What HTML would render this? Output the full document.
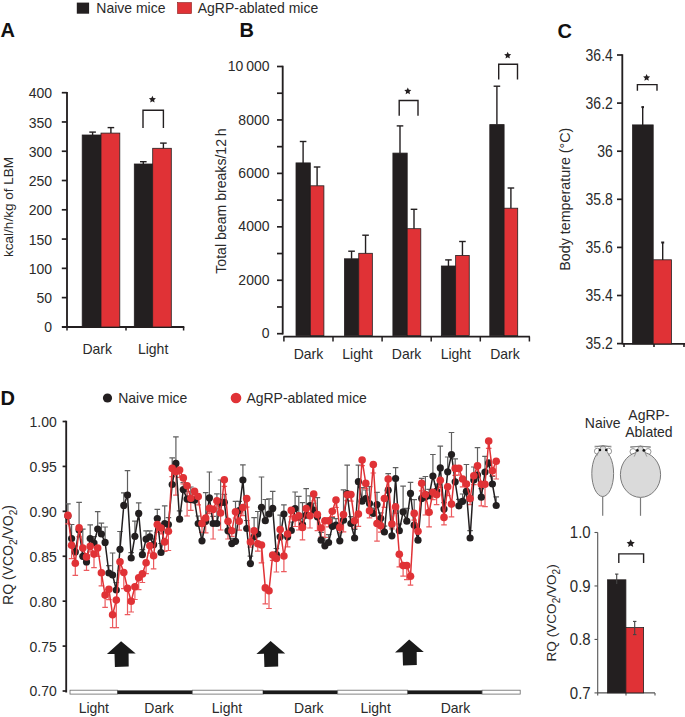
<!DOCTYPE html>
<html><head><meta charset="utf-8"><style>
html,body{margin:0;padding:0;background:#fff;}
svg{display:block;}
text{font-family:"Liberation Sans",sans-serif;}
</style></head><body>
<svg width="685" height="717" viewBox="0 0 685 717">
<rect width="685" height="717" fill="#fff"/>
<rect x="76.80" y="2.60" width="12.30" height="11.10" fill="#231f20"/>
<text transform="translate(96.3,12.9) scale(1,1.07)" font-size="14" text-anchor="start" font-weight="normal" fill="#2a2a2a" >Naive mice</text>
<rect x="177.50" y="2.60" width="14.00" height="11.00" fill="#e03236" stroke="#8a1a1a" stroke-width="0.6"/>
<text transform="translate(197.7,12.9) scale(1,1.07)" font-size="14" text-anchor="start" font-weight="normal" fill="#2a2a2a" >AgRP-ablated mice</text>
<text transform="translate(0.5,37.2) scale(1,1.05)" font-size="20" text-anchor="start" font-weight="bold" fill="#111" >A</text>
<text transform="translate(239.5,37.4) scale(1,1.0)" font-size="20" text-anchor="start" font-weight="bold" fill="#111" >B</text>
<text transform="translate(557.5,37.6) scale(1,1.0)" font-size="20" text-anchor="start" font-weight="bold" fill="#111" >C</text>
<text transform="translate(0.5,404.9) scale(1,1.0)" font-size="20" text-anchor="start" font-weight="bold" fill="#111" >D</text>
<line x1="67.00" y1="92.00" x2="67.00" y2="327.60" stroke="#231f20" stroke-width="1.85" />
<line x1="61.80" y1="326.90" x2="67.00" y2="326.90" stroke="#231f20" stroke-width="1.7" />
<text transform="translate(52.0,332.4) scale(1,1.07)" font-size="14" text-anchor="end" font-weight="normal" fill="#2a2a2a" >0</text>
<line x1="61.80" y1="297.62" x2="67.00" y2="297.62" stroke="#231f20" stroke-width="1.7" />
<text transform="translate(52.0,303.1) scale(1,1.07)" font-size="14" text-anchor="end" font-weight="normal" fill="#2a2a2a" >50</text>
<line x1="61.80" y1="268.35" x2="67.00" y2="268.35" stroke="#231f20" stroke-width="1.7" />
<text transform="translate(52.0,273.8) scale(1,1.07)" font-size="14" text-anchor="end" font-weight="normal" fill="#2a2a2a" >100</text>
<line x1="61.80" y1="239.07" x2="67.00" y2="239.07" stroke="#231f20" stroke-width="1.7" />
<text transform="translate(52.0,244.6) scale(1,1.07)" font-size="14" text-anchor="end" font-weight="normal" fill="#2a2a2a" >150</text>
<line x1="61.80" y1="209.80" x2="67.00" y2="209.80" stroke="#231f20" stroke-width="1.7" />
<text transform="translate(52.0,215.3) scale(1,1.07)" font-size="14" text-anchor="end" font-weight="normal" fill="#2a2a2a" >200</text>
<line x1="61.80" y1="180.52" x2="67.00" y2="180.52" stroke="#231f20" stroke-width="1.7" />
<text transform="translate(52.0,186.0) scale(1,1.07)" font-size="14" text-anchor="end" font-weight="normal" fill="#2a2a2a" >250</text>
<line x1="61.80" y1="151.25" x2="67.00" y2="151.25" stroke="#231f20" stroke-width="1.7" />
<text transform="translate(52.0,156.7) scale(1,1.07)" font-size="14" text-anchor="end" font-weight="normal" fill="#2a2a2a" >300</text>
<line x1="61.80" y1="121.97" x2="67.00" y2="121.97" stroke="#231f20" stroke-width="1.7" />
<text transform="translate(52.0,127.5) scale(1,1.07)" font-size="14" text-anchor="end" font-weight="normal" fill="#2a2a2a" >350</text>
<line x1="61.80" y1="92.70" x2="67.00" y2="92.70" stroke="#231f20" stroke-width="1.7" />
<text transform="translate(52.0,98.2) scale(1,1.07)" font-size="14" text-anchor="end" font-weight="normal" fill="#2a2a2a" >400</text>
<line x1="62.00" y1="327.00" x2="184.30" y2="327.00" stroke="#231f20" stroke-width="1.85" />
<line x1="67.00" y1="327.00" x2="67.00" y2="330.50" stroke="#231f20" stroke-width="1.5" />
<line x1="126.00" y1="327.00" x2="126.00" y2="330.50" stroke="#231f20" stroke-width="1.5" />
<line x1="183.60" y1="327.00" x2="183.60" y2="330.50" stroke="#231f20" stroke-width="1.5" />
<rect x="82.20" y="135.00" width="18.80" height="192.00" fill="#231f20" stroke="#231f20" stroke-width="0.8"/>
<rect x="101.00" y="133.10" width="18.80" height="193.90" fill="#e03236" stroke="#231f20" stroke-width="0.8"/>
<rect x="134.30" y="164.00" width="18.40" height="163.00" fill="#231f20" stroke="#231f20" stroke-width="0.8"/>
<rect x="152.70" y="148.30" width="18.60" height="178.70" fill="#e03236" stroke="#231f20" stroke-width="0.8"/>
<line x1="92.60" y1="135.00" x2="92.60" y2="132.10" stroke="#231f20" stroke-width="1.4" />
<line x1="89.30" y1="132.10" x2="95.90" y2="132.10" stroke="#231f20" stroke-width="1.4" />
<line x1="110.90" y1="133.10" x2="110.90" y2="127.60" stroke="#231f20" stroke-width="1.4" />
<line x1="107.60" y1="127.60" x2="114.20" y2="127.60" stroke="#231f20" stroke-width="1.4" />
<line x1="143.30" y1="164.00" x2="143.30" y2="161.70" stroke="#231f20" stroke-width="1.4" />
<line x1="140.00" y1="161.70" x2="146.60" y2="161.70" stroke="#231f20" stroke-width="1.4" />
<line x1="163.40" y1="148.30" x2="163.40" y2="143.10" stroke="#231f20" stroke-width="1.4" />
<line x1="160.10" y1="143.10" x2="166.70" y2="143.10" stroke="#231f20" stroke-width="1.4" />
<path d="M143.0,128.0 V110.3 H163.4 V128.0" fill="none" stroke="#231f20" stroke-width="1.4"/>
<path d="M152.40,95.70 L153.44,97.96 L155.92,98.26 L154.09,99.95 L154.57,102.39 L152.40,101.18 L150.23,102.39 L150.71,99.95 L148.88,98.26 L151.36,97.96Z" fill="#231f20"/>
<text transform="translate(97.2,354.0) scale(1,1.07)" font-size="14" text-anchor="middle" font-weight="normal" fill="#2a2a2a" >Dark</text>
<text transform="translate(153.1,354.0) scale(1,1.07)" font-size="14" text-anchor="middle" font-weight="normal" fill="#2a2a2a" >Light</text>
<text transform="translate(13.0,207.0) rotate(-90)" font-size="13.5" text-anchor="middle" fill="#2a2a2a">kcal/h/kg of LBM</text>
<line x1="282.70" y1="65.80" x2="282.70" y2="334.40" stroke="#231f20" stroke-width="1.85" />
<line x1="277.00" y1="333.70" x2="282.70" y2="333.70" stroke="#231f20" stroke-width="1.7" />
<text transform="translate(269.5,338.3) scale(1,1.1)" font-size="14" text-anchor="end" font-weight="normal" fill="#2a2a2a" >0</text>
<line x1="277.00" y1="306.98" x2="282.70" y2="306.98" stroke="#231f20" stroke-width="1.7" />
<line x1="277.00" y1="280.26" x2="282.70" y2="280.26" stroke="#231f20" stroke-width="1.7" />
<text transform="translate(269.5,284.9) scale(1,1.1)" font-size="14" text-anchor="end" font-weight="normal" fill="#2a2a2a" >2000</text>
<line x1="277.00" y1="253.54" x2="282.70" y2="253.54" stroke="#231f20" stroke-width="1.7" />
<line x1="277.00" y1="226.82" x2="282.70" y2="226.82" stroke="#231f20" stroke-width="1.7" />
<text transform="translate(269.5,231.4) scale(1,1.1)" font-size="14" text-anchor="end" font-weight="normal" fill="#2a2a2a" >4000</text>
<line x1="277.00" y1="200.10" x2="282.70" y2="200.10" stroke="#231f20" stroke-width="1.7" />
<line x1="277.00" y1="173.38" x2="282.70" y2="173.38" stroke="#231f20" stroke-width="1.7" />
<text transform="translate(269.5,178.0) scale(1,1.1)" font-size="14" text-anchor="end" font-weight="normal" fill="#2a2a2a" >6000</text>
<line x1="277.00" y1="146.66" x2="282.70" y2="146.66" stroke="#231f20" stroke-width="1.7" />
<line x1="277.00" y1="119.94" x2="282.70" y2="119.94" stroke="#231f20" stroke-width="1.7" />
<text transform="translate(269.5,124.5) scale(1,1.1)" font-size="14" text-anchor="end" font-weight="normal" fill="#2a2a2a" >8000</text>
<line x1="277.00" y1="93.22" x2="282.70" y2="93.22" stroke="#231f20" stroke-width="1.7" />
<line x1="277.00" y1="66.50" x2="282.70" y2="66.50" stroke="#231f20" stroke-width="1.7" />
<text transform="translate(269.5,71.1) scale(1,1.1)" font-size="14" text-anchor="end" font-weight="normal" fill="#2a2a2a" >10&#8201;000</text>
<line x1="283.40" y1="336.60" x2="529.90" y2="336.60" stroke="#231f20" stroke-width="1.85" />
<line x1="283.90" y1="336.60" x2="283.90" y2="341.50" stroke="#231f20" stroke-width="1.5" />
<line x1="333.00" y1="336.60" x2="333.00" y2="341.50" stroke="#231f20" stroke-width="1.5" />
<line x1="382.10" y1="336.60" x2="382.10" y2="341.50" stroke="#231f20" stroke-width="1.5" />
<line x1="431.20" y1="336.60" x2="431.20" y2="341.50" stroke="#231f20" stroke-width="1.5" />
<line x1="480.30" y1="336.60" x2="480.30" y2="341.50" stroke="#231f20" stroke-width="1.5" />
<line x1="529.40" y1="336.60" x2="529.40" y2="341.50" stroke="#231f20" stroke-width="1.5" />
<rect x="296.00" y="162.90" width="14.30" height="172.70" fill="#231f20" stroke="#231f20" stroke-width="0.8"/>
<rect x="310.30" y="185.80" width="13.60" height="149.80" fill="#e03236" stroke="#231f20" stroke-width="0.8"/>
<line x1="303.10" y1="162.90" x2="303.10" y2="141.50" stroke="#231f20" stroke-width="1.4" />
<line x1="299.80" y1="141.50" x2="306.40" y2="141.50" stroke="#231f20" stroke-width="1.4" />
<line x1="317.10" y1="185.80" x2="317.10" y2="167.00" stroke="#231f20" stroke-width="1.4" />
<line x1="313.80" y1="167.00" x2="320.40" y2="167.00" stroke="#231f20" stroke-width="1.4" />
<text transform="translate(308.4,359.2) scale(1,1.07)" font-size="14" text-anchor="middle" font-weight="normal" fill="#2a2a2a" >Dark</text>
<rect x="344.45" y="258.80" width="14.30" height="76.80" fill="#231f20" stroke="#231f20" stroke-width="0.8"/>
<rect x="358.75" y="253.30" width="13.60" height="82.30" fill="#e03236" stroke="#231f20" stroke-width="0.8"/>
<line x1="351.55" y1="258.80" x2="351.55" y2="251.20" stroke="#231f20" stroke-width="1.4" />
<line x1="348.25" y1="251.20" x2="354.85" y2="251.20" stroke="#231f20" stroke-width="1.4" />
<line x1="365.55" y1="253.30" x2="365.55" y2="235.20" stroke="#231f20" stroke-width="1.4" />
<line x1="362.25" y1="235.20" x2="368.85" y2="235.20" stroke="#231f20" stroke-width="1.4" />
<text transform="translate(357.5,359.2) scale(1,1.07)" font-size="14" text-anchor="middle" font-weight="normal" fill="#2a2a2a" >Light</text>
<rect x="392.90" y="153.10" width="14.30" height="182.50" fill="#231f20" stroke="#231f20" stroke-width="0.8"/>
<rect x="407.20" y="228.70" width="13.60" height="106.90" fill="#e03236" stroke="#231f20" stroke-width="0.8"/>
<line x1="400.00" y1="153.10" x2="400.00" y2="125.90" stroke="#231f20" stroke-width="1.4" />
<line x1="396.70" y1="125.90" x2="403.30" y2="125.90" stroke="#231f20" stroke-width="1.4" />
<line x1="414.00" y1="228.70" x2="414.00" y2="209.30" stroke="#231f20" stroke-width="1.4" />
<line x1="410.70" y1="209.30" x2="417.30" y2="209.30" stroke="#231f20" stroke-width="1.4" />
<text transform="translate(406.6,359.2) scale(1,1.07)" font-size="14" text-anchor="middle" font-weight="normal" fill="#2a2a2a" >Dark</text>
<rect x="441.35" y="266.00" width="14.30" height="69.60" fill="#231f20" stroke="#231f20" stroke-width="0.8"/>
<rect x="455.65" y="255.40" width="13.60" height="80.20" fill="#e03236" stroke="#231f20" stroke-width="0.8"/>
<line x1="448.45" y1="266.00" x2="448.45" y2="259.90" stroke="#231f20" stroke-width="1.4" />
<line x1="445.15" y1="259.90" x2="451.75" y2="259.90" stroke="#231f20" stroke-width="1.4" />
<line x1="462.45" y1="255.40" x2="462.45" y2="241.50" stroke="#231f20" stroke-width="1.4" />
<line x1="459.15" y1="241.50" x2="465.75" y2="241.50" stroke="#231f20" stroke-width="1.4" />
<text transform="translate(455.8,359.2) scale(1,1.07)" font-size="14" text-anchor="middle" font-weight="normal" fill="#2a2a2a" >Light</text>
<rect x="489.80" y="124.60" width="14.30" height="211.00" fill="#231f20" stroke="#231f20" stroke-width="0.8"/>
<rect x="504.10" y="208.20" width="13.60" height="127.40" fill="#e03236" stroke="#231f20" stroke-width="0.8"/>
<line x1="496.90" y1="124.60" x2="496.90" y2="86.20" stroke="#231f20" stroke-width="1.4" />
<line x1="493.60" y1="86.20" x2="500.20" y2="86.20" stroke="#231f20" stroke-width="1.4" />
<line x1="510.90" y1="208.20" x2="510.90" y2="188.00" stroke="#231f20" stroke-width="1.4" />
<line x1="507.60" y1="188.00" x2="514.20" y2="188.00" stroke="#231f20" stroke-width="1.4" />
<text transform="translate(504.9,359.2) scale(1,1.07)" font-size="14" text-anchor="middle" font-weight="normal" fill="#2a2a2a" >Dark</text>
<path d="M399.2,115.8 V100.5 H418.0 V115.8" fill="none" stroke="#231f20" stroke-width="1.4"/>
<path d="M407.80,87.50 L408.84,89.76 L411.32,90.06 L409.49,91.75 L409.97,94.19 L407.80,92.98 L405.63,94.19 L406.11,91.75 L404.28,90.06 L406.76,89.76Z" fill="#231f20"/>
<path d="M498.7,79.6 V64.3 H517.5 V79.6" fill="none" stroke="#231f20" stroke-width="1.4"/>
<path d="M507.70,51.70 L508.74,53.96 L511.22,54.26 L509.39,55.95 L509.87,58.39 L507.70,57.18 L505.53,58.39 L506.01,55.95 L504.18,54.26 L506.66,53.96Z" fill="#231f20"/>
<text transform="translate(226.0,201.0) rotate(-90)" font-size="14.1" text-anchor="middle" fill="#2a2a2a">Total beam breaks/12&#8201;h</text>
<line x1="622.30" y1="54.30" x2="622.30" y2="344.30" stroke="#231f20" stroke-width="1.85" />
<line x1="617.00" y1="55.00" x2="622.30" y2="55.00" stroke="#231f20" stroke-width="1.7" />
<text transform="translate(612.8,60.8) scale(1,1.12)" font-size="14" text-anchor="end" font-weight="normal" fill="#2a2a2a" >36.4</text>
<line x1="617.00" y1="103.10" x2="622.30" y2="103.10" stroke="#231f20" stroke-width="1.7" />
<text transform="translate(612.8,108.9) scale(1,1.12)" font-size="14" text-anchor="end" font-weight="normal" fill="#2a2a2a" >36.2</text>
<line x1="617.00" y1="151.20" x2="622.30" y2="151.20" stroke="#231f20" stroke-width="1.7" />
<text transform="translate(612.8,157.0) scale(1,1.12)" font-size="14" text-anchor="end" font-weight="normal" fill="#2a2a2a" >36</text>
<line x1="617.00" y1="199.30" x2="622.30" y2="199.30" stroke="#231f20" stroke-width="1.7" />
<text transform="translate(612.8,205.1) scale(1,1.12)" font-size="14" text-anchor="end" font-weight="normal" fill="#2a2a2a" >35.8</text>
<line x1="617.00" y1="247.40" x2="622.30" y2="247.40" stroke="#231f20" stroke-width="1.7" />
<text transform="translate(612.8,253.2) scale(1,1.12)" font-size="14" text-anchor="end" font-weight="normal" fill="#2a2a2a" >35.6</text>
<line x1="617.00" y1="295.50" x2="622.30" y2="295.50" stroke="#231f20" stroke-width="1.7" />
<text transform="translate(612.8,301.3) scale(1,1.12)" font-size="14" text-anchor="end" font-weight="normal" fill="#2a2a2a" >35.4</text>
<line x1="617.00" y1="343.60" x2="622.30" y2="343.60" stroke="#231f20" stroke-width="1.7" />
<text transform="translate(612.8,349.4) scale(1,1.12)" font-size="14" text-anchor="end" font-weight="normal" fill="#2a2a2a" >35.2</text>
<line x1="622.30" y1="343.90" x2="685.00" y2="343.90" stroke="#231f20" stroke-width="1.85" />
<line x1="624.00" y1="343.90" x2="624.00" y2="347.00" stroke="#231f20" stroke-width="1.6" />
<line x1="654.00" y1="343.90" x2="654.00" y2="347.00" stroke="#231f20" stroke-width="1.6" />
<line x1="684.00" y1="343.90" x2="684.00" y2="347.00" stroke="#231f20" stroke-width="1.6" />
<rect x="632.60" y="124.90" width="20.60" height="219.00" fill="#231f20" stroke="#231f20" stroke-width="0.8"/>
<rect x="653.20" y="259.80" width="18.20" height="84.10" fill="#e03236" stroke="#231f20" stroke-width="0.8"/>
<line x1="642.70" y1="124.90" x2="642.70" y2="107.10" stroke="#231f20" stroke-width="1.4" />
<line x1="641.40" y1="107.10" x2="644.00" y2="107.10" stroke="#231f20" stroke-width="2" />
<line x1="662.70" y1="260.00" x2="662.70" y2="242.50" stroke="#231f20" stroke-width="1.4" />
<line x1="661.20" y1="242.50" x2="664.20" y2="242.50" stroke="#231f20" stroke-width="2" />
<path d="M637.4,90.7 V84.6 H657.0 V90.7" fill="none" stroke="#231f20" stroke-width="1.4"/>
<path d="M646.60,74.00 L647.64,76.26 L650.12,76.56 L648.29,78.25 L648.77,80.69 L646.60,79.48 L644.43,80.69 L644.91,78.25 L643.08,76.56 L645.56,76.26Z" fill="#231f20"/>
<text transform="translate(569.5,199.2) rotate(-90)" font-size="14.3" text-anchor="middle" fill="#2a2a2a">Body temperature (°C)</text>
<circle cx="107.5" cy="398" r="4.6" fill="#231f20"/>
<text transform="translate(118.2,403.2) scale(1,1.07)" font-size="14" text-anchor="start" font-weight="normal" fill="#2a2a2a" >Naive mice</text>
<circle cx="236" cy="398" r="5.3" fill="#e03236"/>
<text transform="translate(246.4,403.2) scale(1,1.07)" font-size="14" text-anchor="start" font-weight="normal" fill="#2a2a2a" >AgRP-ablated mice</text>
<line x1="66.20" y1="420.80" x2="66.20" y2="692.50" stroke="#231f20" stroke-width="1.85" />
<line x1="62.60" y1="421.50" x2="66.20" y2="421.50" stroke="#231f20" stroke-width="1.7" />
<text transform="translate(56.7,426.9) scale(1,1.07)" font-size="14" text-anchor="end" font-weight="normal" fill="#2a2a2a" >1.00</text>
<line x1="62.60" y1="466.42" x2="66.20" y2="466.42" stroke="#231f20" stroke-width="1.7" />
<text transform="translate(56.7,471.8) scale(1,1.07)" font-size="14" text-anchor="end" font-weight="normal" fill="#2a2a2a" >0.95</text>
<line x1="62.60" y1="511.34" x2="66.20" y2="511.34" stroke="#231f20" stroke-width="1.7" />
<text transform="translate(56.7,516.7) scale(1,1.07)" font-size="14" text-anchor="end" font-weight="normal" fill="#2a2a2a" >0.90</text>
<line x1="62.60" y1="556.26" x2="66.20" y2="556.26" stroke="#231f20" stroke-width="1.7" />
<text transform="translate(56.7,561.7) scale(1,1.07)" font-size="14" text-anchor="end" font-weight="normal" fill="#2a2a2a" >0.85</text>
<line x1="62.60" y1="601.18" x2="66.20" y2="601.18" stroke="#231f20" stroke-width="1.7" />
<text transform="translate(56.7,606.6) scale(1,1.07)" font-size="14" text-anchor="end" font-weight="normal" fill="#2a2a2a" >0.80</text>
<line x1="62.60" y1="646.10" x2="66.20" y2="646.10" stroke="#231f20" stroke-width="1.7" />
<text transform="translate(56.7,651.5) scale(1,1.07)" font-size="14" text-anchor="end" font-weight="normal" fill="#2a2a2a" >0.75</text>
<line x1="62.60" y1="691.02" x2="66.20" y2="691.02" stroke="#231f20" stroke-width="1.7" />
<text transform="translate(56.7,696.4) scale(1,1.07)" font-size="14" text-anchor="end" font-weight="normal" fill="#2a2a2a" >0.70</text>
<text transform="translate(12.7,555) rotate(-90)" font-size="14" text-anchor="middle" fill="#2a2a2a">RQ (VCO<tspan font-size="10" dy="4">2</tspan><tspan dy="-4">/VO</tspan><tspan font-size="10" dy="4">2</tspan><tspan dy="-4">)</tspan></text>
<rect x="70.00" y="690.20" width="47.50" height="3.90" fill="#fff" stroke="#666" stroke-width="0.8"/>
<rect x="117.50" y="690.40" width="74.80" height="3.80" fill="#1a1a1a"/>
<rect x="192.30" y="690.20" width="70.70" height="3.90" fill="#fff" stroke="#666" stroke-width="0.8"/>
<rect x="263.00" y="690.40" width="74.70" height="3.80" fill="#1a1a1a"/>
<rect x="337.70" y="690.20" width="70.00" height="3.90" fill="#fff" stroke="#666" stroke-width="0.8"/>
<rect x="407.70" y="690.40" width="74.40" height="3.80" fill="#1a1a1a"/>
<rect x="482.10" y="690.20" width="38.10" height="3.90" fill="#fff" stroke="#666" stroke-width="0.8"/>
<text transform="translate(93.8,713.2) scale(1,1.07)" font-size="14" text-anchor="middle" font-weight="normal" fill="#2a2a2a" >Light</text>
<text transform="translate(159.1,713.2) scale(1,1.07)" font-size="14" text-anchor="middle" font-weight="normal" fill="#2a2a2a" >Dark</text>
<text transform="translate(227.0,713.2) scale(1,1.07)" font-size="14" text-anchor="middle" font-weight="normal" fill="#2a2a2a" >Light</text>
<text transform="translate(308.8,713.2) scale(1,1.07)" font-size="14" text-anchor="middle" font-weight="normal" fill="#2a2a2a" >Dark</text>
<text transform="translate(375.6,713.2) scale(1,1.07)" font-size="14" text-anchor="middle" font-weight="normal" fill="#2a2a2a" >Light</text>
<text transform="translate(455.5,713.2) scale(1,1.07)" font-size="14" text-anchor="middle" font-weight="normal" fill="#2a2a2a" >Dark</text>
<path d="M121.1,641.3 L135.7,653.6 L128.6,653.6 L128.7,666.6 L114.9,667.1 L114.5,653.9 L106.9,654.1 Z" fill="#1a1a1a"/>
<path d="M270.6,641.1 L285.2,653.4 L278.1,653.4 L278.2,666.4 L264.4,666.9 L264.0,653.7 L256.4,653.9 Z" fill="#1a1a1a"/>
<path d="M409.2,639.6 L423.8,651.9 L416.7,651.9 L416.8,664.9 L403.0,665.4 L402.6,652.2 L395.0,652.4 Z" fill="#1a1a1a"/>
<path d="M67.9,516.0V503.8M65.1,503.8H70.7" stroke="#5f5f5f" stroke-width="1.2" fill="none"/>
<path d="M71.6,538.5V524.5M68.8,524.5H74.4" stroke="#5f5f5f" stroke-width="1.2" fill="none"/>
<path d="M75.3,551.9V545.9M72.5,545.9H78.1" stroke="#5f5f5f" stroke-width="1.2" fill="none"/>
<path d="M79.1,530.0V502.4M76.3,502.4H81.9" stroke="#5f5f5f" stroke-width="1.2" fill="none"/>
<path d="M82.8,556.3V529.2M80.0,529.2H85.6" stroke="#5f5f5f" stroke-width="1.2" fill="none"/>
<path d="M86.5,561.9V554.7M83.7,554.7H89.3" stroke="#5f5f5f" stroke-width="1.2" fill="none"/>
<path d="M90.2,538.5V524.8M87.4,524.8H93.0" stroke="#5f5f5f" stroke-width="1.2" fill="none"/>
<path d="M94.0,543.0V536.5M91.2,536.5H96.8" stroke="#5f5f5f" stroke-width="1.2" fill="none"/>
<path d="M97.7,529.0V511.6M94.9,511.6H100.5" stroke="#5f5f5f" stroke-width="1.2" fill="none"/>
<path d="M101.4,534.0V523.1M98.6,523.1H104.2" stroke="#5f5f5f" stroke-width="1.2" fill="none"/>
<path d="M105.1,542.4V527.0M102.3,527.0H107.9" stroke="#5f5f5f" stroke-width="1.2" fill="none"/>
<path d="M108.9,573.0V565.6M106.1,565.6H111.7" stroke="#5f5f5f" stroke-width="1.2" fill="none"/>
<path d="M112.6,575.0V553.0M109.8,553.0H115.4" stroke="#5f5f5f" stroke-width="1.2" fill="none"/>
<path d="M116.3,590.0V582.5M113.5,582.5H119.1" stroke="#5f5f5f" stroke-width="1.2" fill="none"/>
<path d="M120.0,549.3V531.5M117.2,531.5H122.8" stroke="#5f5f5f" stroke-width="1.2" fill="none"/>
<path d="M123.8,505.4V492.9M121.0,492.9H126.6" stroke="#5f5f5f" stroke-width="1.2" fill="none"/>
<path d="M127.5,495.0V470.6M124.7,470.6H130.3" stroke="#5f5f5f" stroke-width="1.2" fill="none"/>
<path d="M131.2,558.0V552.7M128.4,552.7H134.0" stroke="#5f5f5f" stroke-width="1.2" fill="none"/>
<path d="M134.9,536.3V521.2M132.1,521.2H137.7" stroke="#5f5f5f" stroke-width="1.2" fill="none"/>
<path d="M138.7,513.4V502.8M135.9,502.8H141.5" stroke="#5f5f5f" stroke-width="1.2" fill="none"/>
<path d="M142.4,554.7V549.6M139.6,549.6H145.2" stroke="#5f5f5f" stroke-width="1.2" fill="none"/>
<path d="M146.1,539.1V530.8M143.3,530.8H148.9" stroke="#5f5f5f" stroke-width="1.2" fill="none"/>
<path d="M149.8,536.9V530.9M147.0,530.9H152.6" stroke="#5f5f5f" stroke-width="1.2" fill="none"/>
<path d="M153.6,544.7V538.8M150.8,538.8H156.4" stroke="#5f5f5f" stroke-width="1.2" fill="none"/>
<path d="M157.3,518.5V509.3M154.5,509.3H160.1" stroke="#5f5f5f" stroke-width="1.2" fill="none"/>
<path d="M161.0,552.5V543.5M158.2,543.5H163.8" stroke="#5f5f5f" stroke-width="1.2" fill="none"/>
<path d="M164.7,523.5V505.9M161.9,505.9H167.5" stroke="#5f5f5f" stroke-width="1.2" fill="none"/>
<path d="M168.4,524.6V517.7M165.6,517.7H171.2" stroke="#5f5f5f" stroke-width="1.2" fill="none"/>
<path d="M172.2,484.5V457.9M169.4,457.9H175.0" stroke="#5f5f5f" stroke-width="1.2" fill="none"/>
<path d="M175.9,463.4V436.9M173.1,436.9H178.7" stroke="#5f5f5f" stroke-width="1.2" fill="none"/>
<path d="M179.6,519.2V510.9M176.8,510.9H182.4" stroke="#5f5f5f" stroke-width="1.2" fill="none"/>
<path d="M183.3,489.6V482.7M180.5,482.7H186.1" stroke="#5f5f5f" stroke-width="1.2" fill="none"/>
<path d="M187.1,499.1V491.5M184.3,491.5H189.9" stroke="#5f5f5f" stroke-width="1.2" fill="none"/>
<path d="M190.8,499.6V487.0M188.0,487.0H193.6" stroke="#5f5f5f" stroke-width="1.2" fill="none"/>
<path d="M194.5,500.2V494.6M191.7,494.6H197.3" stroke="#5f5f5f" stroke-width="1.2" fill="none"/>
<path d="M198.2,523.5V516.0M195.4,516.0H201.0" stroke="#5f5f5f" stroke-width="1.2" fill="none"/>
<path d="M202.0,540.8V532.3M199.2,532.3H204.8" stroke="#5f5f5f" stroke-width="1.2" fill="none"/>
<path d="M205.7,521.3V492.7M202.9,492.7H208.5" stroke="#5f5f5f" stroke-width="1.2" fill="none"/>
<path d="M209.4,497.9V472.0M206.6,472.0H212.2" stroke="#5f5f5f" stroke-width="1.2" fill="none"/>
<path d="M213.1,523.5V516.4M210.3,516.4H215.9" stroke="#5f5f5f" stroke-width="1.2" fill="none"/>
<path d="M216.9,523.5V493.9M214.1,493.9H219.7" stroke="#5f5f5f" stroke-width="1.2" fill="none"/>
<path d="M220.6,502.4V480.0M217.8,480.0H223.4" stroke="#5f5f5f" stroke-width="1.2" fill="none"/>
<path d="M224.3,502.3V494.3M221.5,494.3H227.1" stroke="#5f5f5f" stroke-width="1.2" fill="none"/>
<path d="M228.0,530.8V523.1M225.2,523.1H230.8" stroke="#5f5f5f" stroke-width="1.2" fill="none"/>
<path d="M231.8,543.6V538.3M229.0,538.3H234.6" stroke="#5f5f5f" stroke-width="1.2" fill="none"/>
<path d="M235.5,541.3V501.4M232.7,501.4H238.3" stroke="#5f5f5f" stroke-width="1.2" fill="none"/>
<path d="M239.2,510.6V501.4M236.4,501.4H242.0" stroke="#5f5f5f" stroke-width="1.2" fill="none"/>
<path d="M242.9,480.0V464.8M240.1,464.8H245.7" stroke="#5f5f5f" stroke-width="1.2" fill="none"/>
<path d="M246.7,528.5V520.5M243.9,520.5H249.5" stroke="#5f5f5f" stroke-width="1.2" fill="none"/>
<path d="M250.4,563.6V556.2M247.6,556.2H253.2" stroke="#5f5f5f" stroke-width="1.2" fill="none"/>
<path d="M254.1,536.8V517.7M251.3,517.7H256.9" stroke="#5f5f5f" stroke-width="1.2" fill="none"/>
<path d="M257.8,534.0V511.5M255.0,511.5H260.6" stroke="#5f5f5f" stroke-width="1.2" fill="none"/>
<path d="M261.5,507.3V477.0M258.7,477.0H264.3" stroke="#5f5f5f" stroke-width="1.2" fill="none"/>
<path d="M265.3,520.7V499.5M262.5,499.5H268.1" stroke="#5f5f5f" stroke-width="1.2" fill="none"/>
<path d="M269.0,514.0V498.9M266.2,498.9H271.8" stroke="#5f5f5f" stroke-width="1.2" fill="none"/>
<path d="M272.7,508.4V491.4M269.9,491.4H275.5" stroke="#5f5f5f" stroke-width="1.2" fill="none"/>
<path d="M276.4,554.7V548.5M273.6,548.5H279.2" stroke="#5f5f5f" stroke-width="1.2" fill="none"/>
<path d="M280.2,536.8V515.2M277.4,515.2H283.0" stroke="#5f5f5f" stroke-width="1.2" fill="none"/>
<path d="M283.9,514.0V504.8M281.1,504.8H286.7" stroke="#5f5f5f" stroke-width="1.2" fill="none"/>
<path d="M287.6,536.8V531.7M284.8,531.7H290.4" stroke="#5f5f5f" stroke-width="1.2" fill="none"/>
<path d="M291.3,530.5V522.0M288.5,522.0H294.1" stroke="#5f5f5f" stroke-width="1.2" fill="none"/>
<path d="M295.1,508.5V492.0M292.3,492.0H297.9" stroke="#5f5f5f" stroke-width="1.2" fill="none"/>
<path d="M298.8,516.8V496.4M296.0,496.4H301.6" stroke="#5f5f5f" stroke-width="1.2" fill="none"/>
<path d="M302.5,524.6V502.7M299.7,502.7H305.3" stroke="#5f5f5f" stroke-width="1.2" fill="none"/>
<path d="M306.2,515.1V488.6M303.4,488.6H309.0" stroke="#5f5f5f" stroke-width="1.2" fill="none"/>
<path d="M310.0,505.7V495.8M307.2,495.8H312.8" stroke="#5f5f5f" stroke-width="1.2" fill="none"/>
<path d="M313.7,510.1V503.2M310.9,503.2H316.5" stroke="#5f5f5f" stroke-width="1.2" fill="none"/>
<path d="M317.4,516.8V497.7M314.6,497.7H320.2" stroke="#5f5f5f" stroke-width="1.2" fill="none"/>
<path d="M321.1,540.2V532.3M318.3,532.3H323.9" stroke="#5f5f5f" stroke-width="1.2" fill="none"/>
<path d="M324.9,545.8V537.3M322.1,537.3H327.7" stroke="#5f5f5f" stroke-width="1.2" fill="none"/>
<path d="M328.6,542.5V534.6M325.8,534.6H331.4" stroke="#5f5f5f" stroke-width="1.2" fill="none"/>
<path d="M332.3,526.3V517.6M329.5,517.6H335.1" stroke="#5f5f5f" stroke-width="1.2" fill="none"/>
<path d="M336.0,525.2V518.6M333.2,518.6H338.8" stroke="#5f5f5f" stroke-width="1.2" fill="none"/>
<path d="M339.8,540.8V532.6M337.0,532.6H342.6" stroke="#5f5f5f" stroke-width="1.2" fill="none"/>
<path d="M343.5,520.2V489.9M340.7,489.9H346.3" stroke="#5f5f5f" stroke-width="1.2" fill="none"/>
<path d="M347.2,493.5V465.1M344.4,465.1H350.0" stroke="#5f5f5f" stroke-width="1.2" fill="none"/>
<path d="M350.9,523.5V516.7M348.1,516.7H353.7" stroke="#5f5f5f" stroke-width="1.2" fill="none"/>
<path d="M354.6,538.0V529.3M351.8,529.3H357.4" stroke="#5f5f5f" stroke-width="1.2" fill="none"/>
<path d="M358.4,481.7V465.1M355.6,465.1H361.2" stroke="#5f5f5f" stroke-width="1.2" fill="none"/>
<path d="M362.1,501.2V487.7M359.3,487.7H364.9" stroke="#5f5f5f" stroke-width="1.2" fill="none"/>
<path d="M365.8,498.5V490.0M363.0,490.0H368.6" stroke="#5f5f5f" stroke-width="1.2" fill="none"/>
<path d="M369.5,503.5V486.7M366.7,486.7H372.3" stroke="#5f5f5f" stroke-width="1.2" fill="none"/>
<path d="M373.3,513.5V508.1M370.5,508.1H376.1" stroke="#5f5f5f" stroke-width="1.2" fill="none"/>
<path d="M377.0,504.6V492.4M374.2,492.4H379.8" stroke="#5f5f5f" stroke-width="1.2" fill="none"/>
<path d="M380.7,518.3V512.8M377.9,512.8H383.5" stroke="#5f5f5f" stroke-width="1.2" fill="none"/>
<path d="M384.4,532.0V526.1M381.6,526.1H387.2" stroke="#5f5f5f" stroke-width="1.2" fill="none"/>
<path d="M388.2,490.3V473.6M385.4,473.6H391.0" stroke="#5f5f5f" stroke-width="1.2" fill="none"/>
<path d="M391.9,535.8V526.9M389.1,526.9H394.7" stroke="#5f5f5f" stroke-width="1.2" fill="none"/>
<path d="M395.6,478.5V467.7M392.8,467.7H398.4" stroke="#5f5f5f" stroke-width="1.2" fill="none"/>
<path d="M399.3,530.7V524.0M396.5,524.0H402.1" stroke="#5f5f5f" stroke-width="1.2" fill="none"/>
<path d="M403.1,511.8V486.2M400.3,486.2H405.9" stroke="#5f5f5f" stroke-width="1.2" fill="none"/>
<path d="M406.8,521.2V508.4M404.0,508.4H409.6" stroke="#5f5f5f" stroke-width="1.2" fill="none"/>
<path d="M410.5,493.4V482.4M407.7,482.4H413.3" stroke="#5f5f5f" stroke-width="1.2" fill="none"/>
<path d="M414.2,525.2V499.7M411.4,499.7H417.0" stroke="#5f5f5f" stroke-width="1.2" fill="none"/>
<path d="M418.0,540.2V532.7M415.2,532.7H420.8" stroke="#5f5f5f" stroke-width="1.2" fill="none"/>
<path d="M421.7,498.4V478.3M418.9,478.3H424.5" stroke="#5f5f5f" stroke-width="1.2" fill="none"/>
<path d="M425.4,497.0V476.5M422.6,476.5H428.2" stroke="#5f5f5f" stroke-width="1.2" fill="none"/>
<path d="M429.1,495.6V489.4M426.3,489.4H431.9" stroke="#5f5f5f" stroke-width="1.2" fill="none"/>
<path d="M432.9,476.0V454.5M430.1,454.5H435.7" stroke="#5f5f5f" stroke-width="1.2" fill="none"/>
<path d="M436.6,491.1V484.1M433.8,484.1H439.4" stroke="#5f5f5f" stroke-width="1.2" fill="none"/>
<path d="M440.3,467.9V446.1M437.5,446.1H443.1" stroke="#5f5f5f" stroke-width="1.2" fill="none"/>
<path d="M444.0,509.1V502.6M441.2,502.6H446.8" stroke="#5f5f5f" stroke-width="1.2" fill="none"/>
<path d="M447.7,471.8V457.0M444.9,457.0H450.5" stroke="#5f5f5f" stroke-width="1.2" fill="none"/>
<path d="M451.5,454.5V432.5M448.7,432.5H454.3" stroke="#5f5f5f" stroke-width="1.2" fill="none"/>
<path d="M455.2,481.8V458.9M452.4,458.9H458.0" stroke="#5f5f5f" stroke-width="1.2" fill="none"/>
<path d="M458.9,505.8V499.4M456.1,499.4H461.7" stroke="#5f5f5f" stroke-width="1.2" fill="none"/>
<path d="M462.6,501.3V494.0M459.8,494.0H465.4" stroke="#5f5f5f" stroke-width="1.2" fill="none"/>
<path d="M466.4,491.3V464.5M463.6,464.5H469.2" stroke="#5f5f5f" stroke-width="1.2" fill="none"/>
<path d="M470.1,538.0V530.7M467.3,530.7H472.9" stroke="#5f5f5f" stroke-width="1.2" fill="none"/>
<path d="M473.8,480.0V467.0M471.0,467.0H476.6" stroke="#5f5f5f" stroke-width="1.2" fill="none"/>
<path d="M477.5,475.0V447.6M474.7,447.6H480.3" stroke="#5f5f5f" stroke-width="1.2" fill="none"/>
<path d="M481.3,497.2V488.6M478.5,488.6H484.1" stroke="#5f5f5f" stroke-width="1.2" fill="none"/>
<path d="M485.0,472.0V456.4M482.2,456.4H487.8" stroke="#5f5f5f" stroke-width="1.2" fill="none"/>
<path d="M488.7,463.1V460.0M485.9,460.0H491.5" stroke="#5f5f5f" stroke-width="1.2" fill="none"/>
<path d="M492.4,484.0V476.3M489.6,476.3H495.2" stroke="#5f5f5f" stroke-width="1.2" fill="none"/>
<path d="M496.2,505.5V496.8M493.4,496.8H499.0" stroke="#5f5f5f" stroke-width="1.2" fill="none"/>
<path d="M67.9,515.4V523.8M65.1,523.8H70.7" stroke="#ec5a5e" stroke-width="1.2" fill="none"/>
<path d="M71.6,545.2V558.6M68.8,558.6H74.4" stroke="#ec5a5e" stroke-width="1.2" fill="none"/>
<path d="M75.3,563.2V575.3M72.5,575.3H78.1" stroke="#ec5a5e" stroke-width="1.2" fill="none"/>
<path d="M79.1,527.9V536.9M76.3,536.9H81.9" stroke="#ec5a5e" stroke-width="1.2" fill="none"/>
<path d="M82.8,548.0V555.7M80.0,555.7H85.6" stroke="#ec5a5e" stroke-width="1.2" fill="none"/>
<path d="M86.5,556.9V570.4M83.7,570.4H89.3" stroke="#ec5a5e" stroke-width="1.2" fill="none"/>
<path d="M90.2,546.3V552.0M87.4,552.0H93.0" stroke="#ec5a5e" stroke-width="1.2" fill="none"/>
<path d="M94.0,554.1V567.7M91.2,567.7H96.8" stroke="#ec5a5e" stroke-width="1.2" fill="none"/>
<path d="M97.7,548.0V556.4M94.9,556.4H100.5" stroke="#ec5a5e" stroke-width="1.2" fill="none"/>
<path d="M101.4,572.8V585.8M98.6,585.8H104.2" stroke="#ec5a5e" stroke-width="1.2" fill="none"/>
<path d="M105.1,595.1V607.4M102.3,607.4H107.9" stroke="#ec5a5e" stroke-width="1.2" fill="none"/>
<path d="M108.9,589.2V599.7M106.1,599.7H111.7" stroke="#ec5a5e" stroke-width="1.2" fill="none"/>
<path d="M112.6,614.8V627.6M109.8,627.6H115.4" stroke="#ec5a5e" stroke-width="1.2" fill="none"/>
<path d="M116.3,600.1V627.6M113.5,627.6H119.1" stroke="#ec5a5e" stroke-width="1.2" fill="none"/>
<path d="M120.0,561.7V570.6M117.2,570.6H122.8" stroke="#ec5a5e" stroke-width="1.2" fill="none"/>
<path d="M123.8,572.5V588.6M121.0,588.6H126.6" stroke="#ec5a5e" stroke-width="1.2" fill="none"/>
<path d="M127.5,588.4V614.6M124.7,614.6H130.3" stroke="#ec5a5e" stroke-width="1.2" fill="none"/>
<path d="M131.2,601.2V612.0M128.4,612.0H134.0" stroke="#ec5a5e" stroke-width="1.2" fill="none"/>
<path d="M134.9,586.8V599.5M132.1,599.5H137.7" stroke="#ec5a5e" stroke-width="1.2" fill="none"/>
<path d="M138.7,577.8V589.7M135.9,589.7H141.5" stroke="#ec5a5e" stroke-width="1.2" fill="none"/>
<path d="M142.4,573.9V582.5M139.6,582.5H145.2" stroke="#ec5a5e" stroke-width="1.2" fill="none"/>
<path d="M146.1,562.8V573.7M143.3,573.7H148.9" stroke="#ec5a5e" stroke-width="1.2" fill="none"/>
<path d="M149.8,545.8V553.1M147.0,553.1H152.6" stroke="#ec5a5e" stroke-width="1.2" fill="none"/>
<path d="M153.6,555.8V568.8M150.8,568.8H156.4" stroke="#ec5a5e" stroke-width="1.2" fill="none"/>
<path d="M157.3,524.6V532.5M154.5,532.5H160.1" stroke="#ec5a5e" stroke-width="1.2" fill="none"/>
<path d="M161.0,528.0V533.8M158.2,533.8H163.8" stroke="#ec5a5e" stroke-width="1.2" fill="none"/>
<path d="M164.7,541.9V551.4M161.9,551.4H167.5" stroke="#ec5a5e" stroke-width="1.2" fill="none"/>
<path d="M168.4,531.3V550.5M165.6,550.5H171.2" stroke="#ec5a5e" stroke-width="1.2" fill="none"/>
<path d="M172.2,468.4V476.7M169.4,476.7H175.0" stroke="#ec5a5e" stroke-width="1.2" fill="none"/>
<path d="M175.9,471.8V495.1M173.1,495.1H178.7" stroke="#ec5a5e" stroke-width="1.2" fill="none"/>
<path d="M179.6,470.1V477.4M176.8,477.4H182.4" stroke="#ec5a5e" stroke-width="1.2" fill="none"/>
<path d="M183.3,477.9V484.0M180.5,484.0H186.1" stroke="#ec5a5e" stroke-width="1.2" fill="none"/>
<path d="M187.1,485.7V516.0M184.3,516.0H189.9" stroke="#ec5a5e" stroke-width="1.2" fill="none"/>
<path d="M190.8,498.2V510.4M188.0,510.4H193.6" stroke="#ec5a5e" stroke-width="1.2" fill="none"/>
<path d="M194.5,491.3V496.6M191.7,496.6H197.3" stroke="#ec5a5e" stroke-width="1.2" fill="none"/>
<path d="M198.2,496.5V504.9M195.4,504.9H201.0" stroke="#ec5a5e" stroke-width="1.2" fill="none"/>
<path d="M202.0,523.5V532.5M199.2,532.5H204.8" stroke="#ec5a5e" stroke-width="1.2" fill="none"/>
<path d="M205.7,518.0V532.8M202.9,532.8H208.5" stroke="#ec5a5e" stroke-width="1.2" fill="none"/>
<path d="M209.4,508.3V513.7M206.6,513.7H212.2" stroke="#ec5a5e" stroke-width="1.2" fill="none"/>
<path d="M213.1,509.4V539.0M210.3,539.0H215.9" stroke="#ec5a5e" stroke-width="1.2" fill="none"/>
<path d="M216.9,500.7V508.9M214.1,508.9H219.7" stroke="#ec5a5e" stroke-width="1.2" fill="none"/>
<path d="M220.6,513.0V530.0M217.8,530.0H223.4" stroke="#ec5a5e" stroke-width="1.2" fill="none"/>
<path d="M224.3,479.8V486.4M221.5,486.4H227.1" stroke="#ec5a5e" stroke-width="1.2" fill="none"/>
<path d="M228.0,521.3V539.0M225.2,539.0H230.8" stroke="#ec5a5e" stroke-width="1.2" fill="none"/>
<path d="M231.8,530.8V536.4M229.0,536.4H234.6" stroke="#ec5a5e" stroke-width="1.2" fill="none"/>
<path d="M235.5,511.8V518.0M232.7,518.0H238.3" stroke="#ec5a5e" stroke-width="1.2" fill="none"/>
<path d="M239.2,521.3V530.1M236.4,530.1H242.0" stroke="#ec5a5e" stroke-width="1.2" fill="none"/>
<path d="M242.9,507.5V515.6M240.1,515.6H245.7" stroke="#ec5a5e" stroke-width="1.2" fill="none"/>
<path d="M246.7,498.6V507.1M243.9,507.1H249.5" stroke="#ec5a5e" stroke-width="1.2" fill="none"/>
<path d="M250.4,542.0V547.2M247.6,547.2H253.2" stroke="#ec5a5e" stroke-width="1.2" fill="none"/>
<path d="M254.1,530.7V538.2M251.3,538.2H256.9" stroke="#ec5a5e" stroke-width="1.2" fill="none"/>
<path d="M257.8,543.7V551.1M255.0,551.1H260.6" stroke="#ec5a5e" stroke-width="1.2" fill="none"/>
<path d="M261.5,545.0V562.8M258.7,562.8H264.3" stroke="#ec5a5e" stroke-width="1.2" fill="none"/>
<path d="M265.3,587.9V603.8M262.5,603.8H268.1" stroke="#ec5a5e" stroke-width="1.2" fill="none"/>
<path d="M269.0,590.7V608.5M266.2,608.5H271.8" stroke="#ec5a5e" stroke-width="1.2" fill="none"/>
<path d="M272.7,555.1V560.3M269.9,560.3H275.5" stroke="#ec5a5e" stroke-width="1.2" fill="none"/>
<path d="M276.4,558.5V572.0M273.6,572.0H279.2" stroke="#ec5a5e" stroke-width="1.2" fill="none"/>
<path d="M280.2,529.6V537.5M277.4,537.5H283.0" stroke="#ec5a5e" stroke-width="1.2" fill="none"/>
<path d="M283.9,556.0V571.7M281.1,571.7H286.7" stroke="#ec5a5e" stroke-width="1.2" fill="none"/>
<path d="M287.6,534.0V546.9M284.8,546.9H290.4" stroke="#ec5a5e" stroke-width="1.2" fill="none"/>
<path d="M291.3,510.4V516.7M288.5,516.7H294.1" stroke="#ec5a5e" stroke-width="1.2" fill="none"/>
<path d="M295.1,518.0V526.5M292.3,526.5H297.9" stroke="#ec5a5e" stroke-width="1.2" fill="none"/>
<path d="M298.8,515.7V530.0M296.0,530.0H301.6" stroke="#ec5a5e" stroke-width="1.2" fill="none"/>
<path d="M302.5,527.4V539.8M299.7,539.8H305.3" stroke="#ec5a5e" stroke-width="1.2" fill="none"/>
<path d="M306.2,508.5V517.4M303.4,517.4H309.0" stroke="#ec5a5e" stroke-width="1.2" fill="none"/>
<path d="M310.0,515.7V528.0M307.2,528.0H312.8" stroke="#ec5a5e" stroke-width="1.2" fill="none"/>
<path d="M313.7,494.0V501.0M310.9,501.0H316.5" stroke="#ec5a5e" stroke-width="1.2" fill="none"/>
<path d="M317.4,514.6V530.6M314.6,530.6H320.2" stroke="#ec5a5e" stroke-width="1.2" fill="none"/>
<path d="M321.1,528.0V537.0M318.3,537.0H323.9" stroke="#ec5a5e" stroke-width="1.2" fill="none"/>
<path d="M324.9,520.7V537.5M322.1,537.5H327.7" stroke="#ec5a5e" stroke-width="1.2" fill="none"/>
<path d="M328.6,520.7V526.9M325.8,526.9H331.4" stroke="#ec5a5e" stroke-width="1.2" fill="none"/>
<path d="M332.3,511.2V516.5M329.5,516.5H335.1" stroke="#ec5a5e" stroke-width="1.2" fill="none"/>
<path d="M336.0,500.1V507.5M333.2,507.5H338.8" stroke="#ec5a5e" stroke-width="1.2" fill="none"/>
<path d="M339.8,527.4V532.5M337.0,532.5H342.6" stroke="#ec5a5e" stroke-width="1.2" fill="none"/>
<path d="M343.5,514.6V531.9M340.7,531.9H346.3" stroke="#ec5a5e" stroke-width="1.2" fill="none"/>
<path d="M347.2,494.8V500.6M344.4,500.6H350.0" stroke="#ec5a5e" stroke-width="1.2" fill="none"/>
<path d="M350.9,494.6V501.2M348.1,501.2H353.7" stroke="#ec5a5e" stroke-width="1.2" fill="none"/>
<path d="M354.6,520.8V528.2M351.8,528.2H357.4" stroke="#ec5a5e" stroke-width="1.2" fill="none"/>
<path d="M358.4,514.1V526.3M355.6,526.3H361.2" stroke="#ec5a5e" stroke-width="1.2" fill="none"/>
<path d="M362.1,460.0V465.6M359.3,465.6H364.9" stroke="#ec5a5e" stroke-width="1.2" fill="none"/>
<path d="M365.8,483.4V488.6M363.0,488.6H368.6" stroke="#ec5a5e" stroke-width="1.2" fill="none"/>
<path d="M369.5,510.7V517.8M366.7,517.8H372.3" stroke="#ec5a5e" stroke-width="1.2" fill="none"/>
<path d="M373.3,464.5V473.0M370.5,473.0H376.1" stroke="#ec5a5e" stroke-width="1.2" fill="none"/>
<path d="M377.0,523.5V541.1M374.2,541.1H379.8" stroke="#ec5a5e" stroke-width="1.2" fill="none"/>
<path d="M380.7,525.8V532.1M377.9,532.1H383.5" stroke="#ec5a5e" stroke-width="1.2" fill="none"/>
<path d="M384.4,498.5V507.3M381.6,507.3H387.2" stroke="#ec5a5e" stroke-width="1.2" fill="none"/>
<path d="M388.2,479.0V487.6M385.4,487.6H391.0" stroke="#ec5a5e" stroke-width="1.2" fill="none"/>
<path d="M391.9,524.0V528.8M389.1,528.8H394.7" stroke="#ec5a5e" stroke-width="1.2" fill="none"/>
<path d="M395.6,506.8V513.3M392.8,513.3H398.4" stroke="#ec5a5e" stroke-width="1.2" fill="none"/>
<path d="M399.3,554.3V566.8M396.5,566.8H402.1" stroke="#ec5a5e" stroke-width="1.2" fill="none"/>
<path d="M403.1,565.6V576.2M400.3,576.2H405.9" stroke="#ec5a5e" stroke-width="1.2" fill="none"/>
<path d="M406.8,565.6V579.6M404.0,579.6H409.6" stroke="#ec5a5e" stroke-width="1.2" fill="none"/>
<path d="M410.5,576.2V585.2M407.7,585.2H413.3" stroke="#ec5a5e" stroke-width="1.2" fill="none"/>
<path d="M414.2,513.4V520.2M411.4,520.2H417.0" stroke="#ec5a5e" stroke-width="1.2" fill="none"/>
<path d="M418.0,531.3V538.4M415.2,538.4H420.8" stroke="#ec5a5e" stroke-width="1.2" fill="none"/>
<path d="M421.7,483.3V490.9M418.9,490.9H424.5" stroke="#ec5a5e" stroke-width="1.2" fill="none"/>
<path d="M425.4,494.5V515.0M422.6,515.0H428.2" stroke="#ec5a5e" stroke-width="1.2" fill="none"/>
<path d="M429.1,512.3V526.8M426.3,526.8H431.9" stroke="#ec5a5e" stroke-width="1.2" fill="none"/>
<path d="M432.9,492.3V499.7M430.1,499.7H435.7" stroke="#ec5a5e" stroke-width="1.2" fill="none"/>
<path d="M436.6,494.8V504.7M433.8,504.7H439.4" stroke="#ec5a5e" stroke-width="1.2" fill="none"/>
<path d="M440.3,480.3V487.5M437.5,487.5H443.1" stroke="#ec5a5e" stroke-width="1.2" fill="none"/>
<path d="M444.0,517.4V524.9M441.2,524.9H446.8" stroke="#ec5a5e" stroke-width="1.2" fill="none"/>
<path d="M447.7,486.8V495.6M444.9,495.6H450.5" stroke="#ec5a5e" stroke-width="1.2" fill="none"/>
<path d="M451.5,504.1V516.9M448.7,516.9H454.3" stroke="#ec5a5e" stroke-width="1.2" fill="none"/>
<path d="M455.2,468.4V475.4M452.4,475.4H458.0" stroke="#ec5a5e" stroke-width="1.2" fill="none"/>
<path d="M458.9,468.4V475.1M456.1,475.1H461.7" stroke="#ec5a5e" stroke-width="1.2" fill="none"/>
<path d="M462.6,479.0V486.9M459.8,486.9H465.4" stroke="#ec5a5e" stroke-width="1.2" fill="none"/>
<path d="M466.4,484.0V490.0M463.6,490.0H469.2" stroke="#ec5a5e" stroke-width="1.2" fill="none"/>
<path d="M470.1,498.5V504.7M467.3,504.7H472.9" stroke="#ec5a5e" stroke-width="1.2" fill="none"/>
<path d="M473.8,475.7V484.6M471.0,484.6H476.6" stroke="#ec5a5e" stroke-width="1.2" fill="none"/>
<path d="M477.5,465.9V473.0M474.7,473.0H480.3" stroke="#ec5a5e" stroke-width="1.2" fill="none"/>
<path d="M481.3,484.3V505.8M478.5,505.8H484.1" stroke="#ec5a5e" stroke-width="1.2" fill="none"/>
<path d="M485.0,484.3V506.6M482.2,506.6H487.8" stroke="#ec5a5e" stroke-width="1.2" fill="none"/>
<path d="M488.7,441.1V448.3M485.9,448.3H491.5" stroke="#ec5a5e" stroke-width="1.2" fill="none"/>
<path d="M492.4,470.7V475.7M489.6,475.7H495.2" stroke="#ec5a5e" stroke-width="1.2" fill="none"/>
<path d="M496.2,461.2V479.0M493.4,479.0H499.0" stroke="#ec5a5e" stroke-width="1.2" fill="none"/>
<path d="M67.9,516.0 L71.6,538.5 L75.3,551.9 L79.1,530.0 L82.8,556.3 L86.5,561.9 L90.2,538.5 L94.0,543.0 L97.7,529.0 L101.4,534.0 L105.1,542.4 L108.9,573.0 L112.6,575.0 L116.3,590.0 L120.0,549.3 L123.8,505.4 L127.5,495.0 L131.2,558.0 L134.9,536.3 L138.7,513.4 L142.4,554.7 L146.1,539.1 L149.8,536.9 L153.6,544.7 L157.3,518.5 L161.0,552.5 L164.7,523.5 L168.4,524.6 L172.2,484.5 L175.9,463.4 L179.6,519.2 L183.3,489.6 L187.1,499.1 L190.8,499.6 L194.5,500.2 L198.2,523.5 L202.0,540.8 L205.7,521.3 L209.4,497.9 L213.1,523.5 L216.9,523.5 L220.6,502.4 L224.3,502.3 L228.0,530.8 L231.8,543.6 L235.5,541.3 L239.2,510.6 L242.9,480.0 L246.7,528.5 L250.4,563.6 L254.1,536.8 L257.8,534.0 L261.5,507.3 L265.3,520.7 L269.0,514.0 L272.7,508.4 L276.4,554.7 L280.2,536.8 L283.9,514.0 L287.6,536.8 L291.3,530.5 L295.1,508.5 L298.8,516.8 L302.5,524.6 L306.2,515.1 L310.0,505.7 L313.7,510.1 L317.4,516.8 L321.1,540.2 L324.9,545.8 L328.6,542.5 L332.3,526.3 L336.0,525.2 L339.8,540.8 L343.5,520.2 L347.2,493.5 L350.9,523.5 L354.6,538.0 L358.4,481.7 L362.1,501.2 L365.8,498.5 L369.5,503.5 L373.3,513.5 L377.0,504.6 L380.7,518.3 L384.4,532.0 L388.2,490.3 L391.9,535.8 L395.6,478.5 L399.3,530.7 L403.1,511.8 L406.8,521.2 L410.5,493.4 L414.2,525.2 L418.0,540.2 L421.7,498.4 L425.4,497.0 L429.1,495.6 L432.9,476.0 L436.6,491.1 L440.3,467.9 L444.0,509.1 L447.7,471.8 L451.5,454.5 L455.2,481.8 L458.9,505.8 L462.6,501.3 L466.4,491.3 L470.1,538.0 L473.8,480.0 L477.5,475.0 L481.3,497.2 L485.0,472.0 L488.7,463.1 L492.4,484.0 L496.2,505.5" fill="none" stroke="#231f20" stroke-width="1.5" stroke-linejoin="round"/>
<circle cx="67.9" cy="516.0" r="3.6" fill="#231f20"/>
<circle cx="71.6" cy="538.5" r="3.6" fill="#231f20"/>
<circle cx="75.3" cy="551.9" r="3.6" fill="#231f20"/>
<circle cx="79.1" cy="530.0" r="3.6" fill="#231f20"/>
<circle cx="82.8" cy="556.3" r="3.6" fill="#231f20"/>
<circle cx="86.5" cy="561.9" r="3.6" fill="#231f20"/>
<circle cx="90.2" cy="538.5" r="3.6" fill="#231f20"/>
<circle cx="94.0" cy="543.0" r="3.6" fill="#231f20"/>
<circle cx="97.7" cy="529.0" r="3.6" fill="#231f20"/>
<circle cx="101.4" cy="534.0" r="3.6" fill="#231f20"/>
<circle cx="105.1" cy="542.4" r="3.6" fill="#231f20"/>
<circle cx="108.9" cy="573.0" r="3.6" fill="#231f20"/>
<circle cx="112.6" cy="575.0" r="3.6" fill="#231f20"/>
<circle cx="116.3" cy="590.0" r="3.6" fill="#231f20"/>
<circle cx="120.0" cy="549.3" r="3.6" fill="#231f20"/>
<circle cx="123.8" cy="505.4" r="3.6" fill="#231f20"/>
<circle cx="127.5" cy="495.0" r="3.6" fill="#231f20"/>
<circle cx="131.2" cy="558.0" r="3.6" fill="#231f20"/>
<circle cx="134.9" cy="536.3" r="3.6" fill="#231f20"/>
<circle cx="138.7" cy="513.4" r="3.6" fill="#231f20"/>
<circle cx="142.4" cy="554.7" r="3.6" fill="#231f20"/>
<circle cx="146.1" cy="539.1" r="3.6" fill="#231f20"/>
<circle cx="149.8" cy="536.9" r="3.6" fill="#231f20"/>
<circle cx="153.6" cy="544.7" r="3.6" fill="#231f20"/>
<circle cx="157.3" cy="518.5" r="3.6" fill="#231f20"/>
<circle cx="161.0" cy="552.5" r="3.6" fill="#231f20"/>
<circle cx="164.7" cy="523.5" r="3.6" fill="#231f20"/>
<circle cx="168.4" cy="524.6" r="3.6" fill="#231f20"/>
<circle cx="172.2" cy="484.5" r="3.6" fill="#231f20"/>
<circle cx="175.9" cy="463.4" r="3.6" fill="#231f20"/>
<circle cx="179.6" cy="519.2" r="3.6" fill="#231f20"/>
<circle cx="183.3" cy="489.6" r="3.6" fill="#231f20"/>
<circle cx="187.1" cy="499.1" r="3.6" fill="#231f20"/>
<circle cx="190.8" cy="499.6" r="3.6" fill="#231f20"/>
<circle cx="194.5" cy="500.2" r="3.6" fill="#231f20"/>
<circle cx="198.2" cy="523.5" r="3.6" fill="#231f20"/>
<circle cx="202.0" cy="540.8" r="3.6" fill="#231f20"/>
<circle cx="205.7" cy="521.3" r="3.6" fill="#231f20"/>
<circle cx="209.4" cy="497.9" r="3.6" fill="#231f20"/>
<circle cx="213.1" cy="523.5" r="3.6" fill="#231f20"/>
<circle cx="216.9" cy="523.5" r="3.6" fill="#231f20"/>
<circle cx="220.6" cy="502.4" r="3.6" fill="#231f20"/>
<circle cx="224.3" cy="502.3" r="3.6" fill="#231f20"/>
<circle cx="228.0" cy="530.8" r="3.6" fill="#231f20"/>
<circle cx="231.8" cy="543.6" r="3.6" fill="#231f20"/>
<circle cx="235.5" cy="541.3" r="3.6" fill="#231f20"/>
<circle cx="239.2" cy="510.6" r="3.6" fill="#231f20"/>
<circle cx="242.9" cy="480.0" r="3.6" fill="#231f20"/>
<circle cx="246.7" cy="528.5" r="3.6" fill="#231f20"/>
<circle cx="250.4" cy="563.6" r="3.6" fill="#231f20"/>
<circle cx="254.1" cy="536.8" r="3.6" fill="#231f20"/>
<circle cx="257.8" cy="534.0" r="3.6" fill="#231f20"/>
<circle cx="261.5" cy="507.3" r="3.6" fill="#231f20"/>
<circle cx="265.3" cy="520.7" r="3.6" fill="#231f20"/>
<circle cx="269.0" cy="514.0" r="3.6" fill="#231f20"/>
<circle cx="272.7" cy="508.4" r="3.6" fill="#231f20"/>
<circle cx="276.4" cy="554.7" r="3.6" fill="#231f20"/>
<circle cx="280.2" cy="536.8" r="3.6" fill="#231f20"/>
<circle cx="283.9" cy="514.0" r="3.6" fill="#231f20"/>
<circle cx="287.6" cy="536.8" r="3.6" fill="#231f20"/>
<circle cx="291.3" cy="530.5" r="3.6" fill="#231f20"/>
<circle cx="295.1" cy="508.5" r="3.6" fill="#231f20"/>
<circle cx="298.8" cy="516.8" r="3.6" fill="#231f20"/>
<circle cx="302.5" cy="524.6" r="3.6" fill="#231f20"/>
<circle cx="306.2" cy="515.1" r="3.6" fill="#231f20"/>
<circle cx="310.0" cy="505.7" r="3.6" fill="#231f20"/>
<circle cx="313.7" cy="510.1" r="3.6" fill="#231f20"/>
<circle cx="317.4" cy="516.8" r="3.6" fill="#231f20"/>
<circle cx="321.1" cy="540.2" r="3.6" fill="#231f20"/>
<circle cx="324.9" cy="545.8" r="3.6" fill="#231f20"/>
<circle cx="328.6" cy="542.5" r="3.6" fill="#231f20"/>
<circle cx="332.3" cy="526.3" r="3.6" fill="#231f20"/>
<circle cx="336.0" cy="525.2" r="3.6" fill="#231f20"/>
<circle cx="339.8" cy="540.8" r="3.6" fill="#231f20"/>
<circle cx="343.5" cy="520.2" r="3.6" fill="#231f20"/>
<circle cx="347.2" cy="493.5" r="3.6" fill="#231f20"/>
<circle cx="350.9" cy="523.5" r="3.6" fill="#231f20"/>
<circle cx="354.6" cy="538.0" r="3.6" fill="#231f20"/>
<circle cx="358.4" cy="481.7" r="3.6" fill="#231f20"/>
<circle cx="362.1" cy="501.2" r="3.6" fill="#231f20"/>
<circle cx="365.8" cy="498.5" r="3.6" fill="#231f20"/>
<circle cx="369.5" cy="503.5" r="3.6" fill="#231f20"/>
<circle cx="373.3" cy="513.5" r="3.6" fill="#231f20"/>
<circle cx="377.0" cy="504.6" r="3.6" fill="#231f20"/>
<circle cx="380.7" cy="518.3" r="3.6" fill="#231f20"/>
<circle cx="384.4" cy="532.0" r="3.6" fill="#231f20"/>
<circle cx="388.2" cy="490.3" r="3.6" fill="#231f20"/>
<circle cx="391.9" cy="535.8" r="3.6" fill="#231f20"/>
<circle cx="395.6" cy="478.5" r="3.6" fill="#231f20"/>
<circle cx="399.3" cy="530.7" r="3.6" fill="#231f20"/>
<circle cx="403.1" cy="511.8" r="3.6" fill="#231f20"/>
<circle cx="406.8" cy="521.2" r="3.6" fill="#231f20"/>
<circle cx="410.5" cy="493.4" r="3.6" fill="#231f20"/>
<circle cx="414.2" cy="525.2" r="3.6" fill="#231f20"/>
<circle cx="418.0" cy="540.2" r="3.6" fill="#231f20"/>
<circle cx="421.7" cy="498.4" r="3.6" fill="#231f20"/>
<circle cx="425.4" cy="497.0" r="3.6" fill="#231f20"/>
<circle cx="429.1" cy="495.6" r="3.6" fill="#231f20"/>
<circle cx="432.9" cy="476.0" r="3.6" fill="#231f20"/>
<circle cx="436.6" cy="491.1" r="3.6" fill="#231f20"/>
<circle cx="440.3" cy="467.9" r="3.6" fill="#231f20"/>
<circle cx="444.0" cy="509.1" r="3.6" fill="#231f20"/>
<circle cx="447.7" cy="471.8" r="3.6" fill="#231f20"/>
<circle cx="451.5" cy="454.5" r="3.6" fill="#231f20"/>
<circle cx="455.2" cy="481.8" r="3.6" fill="#231f20"/>
<circle cx="458.9" cy="505.8" r="3.6" fill="#231f20"/>
<circle cx="462.6" cy="501.3" r="3.6" fill="#231f20"/>
<circle cx="466.4" cy="491.3" r="3.6" fill="#231f20"/>
<circle cx="470.1" cy="538.0" r="3.6" fill="#231f20"/>
<circle cx="473.8" cy="480.0" r="3.6" fill="#231f20"/>
<circle cx="477.5" cy="475.0" r="3.6" fill="#231f20"/>
<circle cx="481.3" cy="497.2" r="3.6" fill="#231f20"/>
<circle cx="485.0" cy="472.0" r="3.6" fill="#231f20"/>
<circle cx="488.7" cy="463.1" r="3.6" fill="#231f20"/>
<circle cx="492.4" cy="484.0" r="3.6" fill="#231f20"/>
<circle cx="496.2" cy="505.5" r="3.6" fill="#231f20"/>
<path d="M67.9,515.4 L71.6,545.2 L75.3,563.2 L79.1,527.9 L82.8,548.0 L86.5,556.9 L90.2,546.3 L94.0,554.1 L97.7,548.0 L101.4,572.8 L105.1,595.1 L108.9,589.2 L112.6,614.8 L116.3,600.1 L120.0,561.7 L123.8,572.5 L127.5,588.4 L131.2,601.2 L134.9,586.8 L138.7,577.8 L142.4,573.9 L146.1,562.8 L149.8,545.8 L153.6,555.8 L157.3,524.6 L161.0,528.0 L164.7,541.9 L168.4,531.3 L172.2,468.4 L175.9,471.8 L179.6,470.1 L183.3,477.9 L187.1,485.7 L190.8,498.2 L194.5,491.3 L198.2,496.5 L202.0,523.5 L205.7,518.0 L209.4,508.3 L213.1,509.4 L216.9,500.7 L220.6,513.0 L224.3,479.8 L228.0,521.3 L231.8,530.8 L235.5,511.8 L239.2,521.3 L242.9,507.5 L246.7,498.6 L250.4,542.0 L254.1,530.7 L257.8,543.7 L261.5,545.0 L265.3,587.9 L269.0,590.7 L272.7,555.1 L276.4,558.5 L280.2,529.6 L283.9,556.0 L287.6,534.0 L291.3,510.4 L295.1,518.0 L298.8,515.7 L302.5,527.4 L306.2,508.5 L310.0,515.7 L313.7,494.0 L317.4,514.6 L321.1,528.0 L324.9,520.7 L328.6,520.7 L332.3,511.2 L336.0,500.1 L339.8,527.4 L343.5,514.6 L347.2,494.8 L350.9,494.6 L354.6,520.8 L358.4,514.1 L362.1,460.0 L365.8,483.4 L369.5,510.7 L373.3,464.5 L377.0,523.5 L380.7,525.8 L384.4,498.5 L388.2,479.0 L391.9,524.0 L395.6,506.8 L399.3,554.3 L403.1,565.6 L406.8,565.6 L410.5,576.2 L414.2,513.4 L418.0,531.3 L421.7,483.3 L425.4,494.5 L429.1,512.3 L432.9,492.3 L436.6,494.8 L440.3,480.3 L444.0,517.4 L447.7,486.8 L451.5,504.1 L455.2,468.4 L458.9,468.4 L462.6,479.0 L466.4,484.0 L470.1,498.5 L473.8,475.7 L477.5,465.9 L481.3,484.3 L485.0,484.3 L488.7,441.1 L492.4,470.7 L496.2,461.2" fill="none" stroke="#e03236" stroke-width="1.5" stroke-linejoin="round"/>
<circle cx="67.9" cy="515.4" r="3.8" fill="#e03236"/>
<circle cx="71.6" cy="545.2" r="3.8" fill="#e03236"/>
<circle cx="75.3" cy="563.2" r="3.8" fill="#e03236"/>
<circle cx="79.1" cy="527.9" r="3.8" fill="#e03236"/>
<circle cx="82.8" cy="548.0" r="3.8" fill="#e03236"/>
<circle cx="86.5" cy="556.9" r="3.8" fill="#e03236"/>
<circle cx="90.2" cy="546.3" r="3.8" fill="#e03236"/>
<circle cx="94.0" cy="554.1" r="3.8" fill="#e03236"/>
<circle cx="97.7" cy="548.0" r="3.8" fill="#e03236"/>
<circle cx="101.4" cy="572.8" r="3.8" fill="#e03236"/>
<circle cx="105.1" cy="595.1" r="3.8" fill="#e03236"/>
<circle cx="108.9" cy="589.2" r="3.8" fill="#e03236"/>
<circle cx="112.6" cy="614.8" r="3.8" fill="#e03236"/>
<circle cx="116.3" cy="600.1" r="3.8" fill="#e03236"/>
<circle cx="120.0" cy="561.7" r="3.8" fill="#e03236"/>
<circle cx="123.8" cy="572.5" r="3.8" fill="#e03236"/>
<circle cx="127.5" cy="588.4" r="3.8" fill="#e03236"/>
<circle cx="131.2" cy="601.2" r="3.8" fill="#e03236"/>
<circle cx="134.9" cy="586.8" r="3.8" fill="#e03236"/>
<circle cx="138.7" cy="577.8" r="3.8" fill="#e03236"/>
<circle cx="142.4" cy="573.9" r="3.8" fill="#e03236"/>
<circle cx="146.1" cy="562.8" r="3.8" fill="#e03236"/>
<circle cx="149.8" cy="545.8" r="3.8" fill="#e03236"/>
<circle cx="153.6" cy="555.8" r="3.8" fill="#e03236"/>
<circle cx="157.3" cy="524.6" r="3.8" fill="#e03236"/>
<circle cx="161.0" cy="528.0" r="3.8" fill="#e03236"/>
<circle cx="164.7" cy="541.9" r="3.8" fill="#e03236"/>
<circle cx="168.4" cy="531.3" r="3.8" fill="#e03236"/>
<circle cx="172.2" cy="468.4" r="3.8" fill="#e03236"/>
<circle cx="175.9" cy="471.8" r="3.8" fill="#e03236"/>
<circle cx="179.6" cy="470.1" r="3.8" fill="#e03236"/>
<circle cx="183.3" cy="477.9" r="3.8" fill="#e03236"/>
<circle cx="187.1" cy="485.7" r="3.8" fill="#e03236"/>
<circle cx="190.8" cy="498.2" r="3.8" fill="#e03236"/>
<circle cx="194.5" cy="491.3" r="3.8" fill="#e03236"/>
<circle cx="198.2" cy="496.5" r="3.8" fill="#e03236"/>
<circle cx="202.0" cy="523.5" r="3.8" fill="#e03236"/>
<circle cx="205.7" cy="518.0" r="3.8" fill="#e03236"/>
<circle cx="209.4" cy="508.3" r="3.8" fill="#e03236"/>
<circle cx="213.1" cy="509.4" r="3.8" fill="#e03236"/>
<circle cx="216.9" cy="500.7" r="3.8" fill="#e03236"/>
<circle cx="220.6" cy="513.0" r="3.8" fill="#e03236"/>
<circle cx="224.3" cy="479.8" r="3.8" fill="#e03236"/>
<circle cx="228.0" cy="521.3" r="3.8" fill="#e03236"/>
<circle cx="231.8" cy="530.8" r="3.8" fill="#e03236"/>
<circle cx="235.5" cy="511.8" r="3.8" fill="#e03236"/>
<circle cx="239.2" cy="521.3" r="3.8" fill="#e03236"/>
<circle cx="242.9" cy="507.5" r="3.8" fill="#e03236"/>
<circle cx="246.7" cy="498.6" r="3.8" fill="#e03236"/>
<circle cx="250.4" cy="542.0" r="3.8" fill="#e03236"/>
<circle cx="254.1" cy="530.7" r="3.8" fill="#e03236"/>
<circle cx="257.8" cy="543.7" r="3.8" fill="#e03236"/>
<circle cx="261.5" cy="545.0" r="3.8" fill="#e03236"/>
<circle cx="265.3" cy="587.9" r="3.8" fill="#e03236"/>
<circle cx="269.0" cy="590.7" r="3.8" fill="#e03236"/>
<circle cx="272.7" cy="555.1" r="3.8" fill="#e03236"/>
<circle cx="276.4" cy="558.5" r="3.8" fill="#e03236"/>
<circle cx="280.2" cy="529.6" r="3.8" fill="#e03236"/>
<circle cx="283.9" cy="556.0" r="3.8" fill="#e03236"/>
<circle cx="287.6" cy="534.0" r="3.8" fill="#e03236"/>
<circle cx="291.3" cy="510.4" r="3.8" fill="#e03236"/>
<circle cx="295.1" cy="518.0" r="3.8" fill="#e03236"/>
<circle cx="298.8" cy="515.7" r="3.8" fill="#e03236"/>
<circle cx="302.5" cy="527.4" r="3.8" fill="#e03236"/>
<circle cx="306.2" cy="508.5" r="3.8" fill="#e03236"/>
<circle cx="310.0" cy="515.7" r="3.8" fill="#e03236"/>
<circle cx="313.7" cy="494.0" r="3.8" fill="#e03236"/>
<circle cx="317.4" cy="514.6" r="3.8" fill="#e03236"/>
<circle cx="321.1" cy="528.0" r="3.8" fill="#e03236"/>
<circle cx="324.9" cy="520.7" r="3.8" fill="#e03236"/>
<circle cx="328.6" cy="520.7" r="3.8" fill="#e03236"/>
<circle cx="332.3" cy="511.2" r="3.8" fill="#e03236"/>
<circle cx="336.0" cy="500.1" r="3.8" fill="#e03236"/>
<circle cx="339.8" cy="527.4" r="3.8" fill="#e03236"/>
<circle cx="343.5" cy="514.6" r="3.8" fill="#e03236"/>
<circle cx="347.2" cy="494.8" r="3.8" fill="#e03236"/>
<circle cx="350.9" cy="494.6" r="3.8" fill="#e03236"/>
<circle cx="354.6" cy="520.8" r="3.8" fill="#e03236"/>
<circle cx="358.4" cy="514.1" r="3.8" fill="#e03236"/>
<circle cx="362.1" cy="460.0" r="3.8" fill="#e03236"/>
<circle cx="365.8" cy="483.4" r="3.8" fill="#e03236"/>
<circle cx="369.5" cy="510.7" r="3.8" fill="#e03236"/>
<circle cx="373.3" cy="464.5" r="3.8" fill="#e03236"/>
<circle cx="377.0" cy="523.5" r="3.8" fill="#e03236"/>
<circle cx="380.7" cy="525.8" r="3.8" fill="#e03236"/>
<circle cx="384.4" cy="498.5" r="3.8" fill="#e03236"/>
<circle cx="388.2" cy="479.0" r="3.8" fill="#e03236"/>
<circle cx="391.9" cy="524.0" r="3.8" fill="#e03236"/>
<circle cx="395.6" cy="506.8" r="3.8" fill="#e03236"/>
<circle cx="399.3" cy="554.3" r="3.8" fill="#e03236"/>
<circle cx="403.1" cy="565.6" r="3.8" fill="#e03236"/>
<circle cx="406.8" cy="565.6" r="3.8" fill="#e03236"/>
<circle cx="410.5" cy="576.2" r="3.8" fill="#e03236"/>
<circle cx="414.2" cy="513.4" r="3.8" fill="#e03236"/>
<circle cx="418.0" cy="531.3" r="3.8" fill="#e03236"/>
<circle cx="421.7" cy="483.3" r="3.8" fill="#e03236"/>
<circle cx="425.4" cy="494.5" r="3.8" fill="#e03236"/>
<circle cx="429.1" cy="512.3" r="3.8" fill="#e03236"/>
<circle cx="432.9" cy="492.3" r="3.8" fill="#e03236"/>
<circle cx="436.6" cy="494.8" r="3.8" fill="#e03236"/>
<circle cx="440.3" cy="480.3" r="3.8" fill="#e03236"/>
<circle cx="444.0" cy="517.4" r="3.8" fill="#e03236"/>
<circle cx="447.7" cy="486.8" r="3.8" fill="#e03236"/>
<circle cx="451.5" cy="504.1" r="3.8" fill="#e03236"/>
<circle cx="455.2" cy="468.4" r="3.8" fill="#e03236"/>
<circle cx="458.9" cy="468.4" r="3.8" fill="#e03236"/>
<circle cx="462.6" cy="479.0" r="3.8" fill="#e03236"/>
<circle cx="466.4" cy="484.0" r="3.8" fill="#e03236"/>
<circle cx="470.1" cy="498.5" r="3.8" fill="#e03236"/>
<circle cx="473.8" cy="475.7" r="3.8" fill="#e03236"/>
<circle cx="477.5" cy="465.9" r="3.8" fill="#e03236"/>
<circle cx="481.3" cy="484.3" r="3.8" fill="#e03236"/>
<circle cx="485.0" cy="484.3" r="3.8" fill="#e03236"/>
<circle cx="488.7" cy="441.1" r="3.8" fill="#e03236"/>
<circle cx="492.4" cy="470.7" r="3.8" fill="#e03236"/>
<circle cx="496.2" cy="461.2" r="3.8" fill="#e03236"/>
<text transform="translate(602.7,427.7) scale(1,1.07)" font-size="14" text-anchor="middle" font-weight="normal" fill="#2a2a2a" >Naive</text>
<text transform="translate(648.9,419.8) scale(1,1.07)" font-size="14" text-anchor="middle" font-weight="normal" fill="#2a2a2a" >AgRP-</text>
<text transform="translate(648.9,436.9) scale(1,1.07)" font-size="14" text-anchor="middle" font-weight="normal" fill="#2a2a2a" >Ablated</text>
<line x1="602.7" y1="496.5" x2="602.7" y2="515.8" stroke="#7a7a7a" stroke-width="1.2"/>
<circle cx="597.4" cy="451.2" r="3" fill="#fff" stroke="#7a7a7a" stroke-width="0.8"/>
<circle cx="608.6" cy="451.2" r="3" fill="#fff" stroke="#7a7a7a" stroke-width="0.8"/>
<ellipse cx="602.7" cy="473.5" rx="10.9" ry="23" fill="#dadada" stroke="#7a7a7a" stroke-width="1"/>
<path d="M596.0,457.2 L601.0,446.7 Q603.0,444.7 605.0,446.7 L610.0,457.2 Z" fill="#dadada"/>
<path d="M596.7,456.2 L601.0,446.7 Q603.0,444.7 605.0,446.7 L609.3,456.2" fill="none" stroke="#7a7a7a" stroke-width="0.7"/>
<path d="M594.6,447.0 L603.0,445.59999999999997 L611.4,447.0" fill="none" stroke="#7a7a7a" stroke-width="0.9"/>
<line x1="594.6" y1="446.2" x2="611.4" y2="446.2" stroke="#7a7a7a" stroke-width="0.7"/>
<circle cx="599.9" cy="450.0" r="1.35" fill="#111"/>
<circle cx="606.3" cy="450.0" r="1.35" fill="#111"/>
<line x1="640.5" y1="497.4" x2="640.5" y2="515.8" stroke="#7a7a7a" stroke-width="1.2"/>
<circle cx="633.0" cy="451.6" r="3" fill="#fff" stroke="#7a7a7a" stroke-width="0.8"/>
<circle cx="648.0" cy="451.6" r="3" fill="#fff" stroke="#7a7a7a" stroke-width="0.8"/>
<ellipse cx="640.5" cy="474.7" rx="20.1" ry="22.7" fill="#dadada" stroke="#7a7a7a" stroke-width="1"/>
<path d="M633.5,457.6 L638.5,447.1 Q640.5,445.1 642.5,447.1 L647.5,457.6 Z" fill="#dadada"/>
<path d="M634.2,456.6 L638.5,447.1 Q640.5,445.1 642.5,447.1 L646.8,456.6" fill="none" stroke="#7a7a7a" stroke-width="0.7"/>
<path d="M630.3,447.40000000000003 L640.5,446.0 L650.7,447.40000000000003" fill="none" stroke="#7a7a7a" stroke-width="0.9"/>
<line x1="630.3" y1="446.6" x2="650.7" y2="446.6" stroke="#7a7a7a" stroke-width="0.7"/>
<circle cx="637.4" cy="450.40000000000003" r="1.35" fill="#111"/>
<circle cx="643.8" cy="450.40000000000003" r="1.35" fill="#111"/>
<line x1="597.70" y1="532.49" x2="597.70" y2="692.90" stroke="#555" stroke-width="1.1" />
<line x1="594.50" y1="532.49" x2="597.70" y2="532.49" stroke="#555" stroke-width="1.1" />
<text transform="translate(590.7,538.1) scale(1,1.07)" font-size="15" text-anchor="end" font-weight="normal" fill="#2a2a2a" >1.0</text>
<line x1="594.50" y1="585.96" x2="597.70" y2="585.96" stroke="#555" stroke-width="1.1" />
<text transform="translate(590.7,591.6) scale(1,1.07)" font-size="15" text-anchor="end" font-weight="normal" fill="#2a2a2a" >0.9</text>
<line x1="594.50" y1="639.43" x2="597.70" y2="639.43" stroke="#555" stroke-width="1.1" />
<text transform="translate(590.7,645.0) scale(1,1.07)" font-size="15" text-anchor="end" font-weight="normal" fill="#2a2a2a" >0.8</text>
<line x1="594.50" y1="692.90" x2="597.70" y2="692.90" stroke="#555" stroke-width="1.1" />
<text transform="translate(590.7,698.5) scale(1,1.07)" font-size="15" text-anchor="end" font-weight="normal" fill="#2a2a2a" >0.7</text>
<line x1="597.70" y1="692.90" x2="655.00" y2="692.90" stroke="#555" stroke-width="1.1" />
<line x1="597.70" y1="692.90" x2="597.70" y2="695.50" stroke="#555" stroke-width="1.1" />
<line x1="626.00" y1="692.90" x2="626.00" y2="695.50" stroke="#555" stroke-width="1.1" />
<line x1="655.00" y1="692.90" x2="655.00" y2="695.50" stroke="#555" stroke-width="1.1" />
<rect x="607.60" y="579.80" width="18.30" height="113.10" fill="#231f20" stroke="#231f20" stroke-width="0.8"/>
<rect x="625.90" y="627.60" width="17.70" height="65.30" fill="#e03236" stroke="#231f20" stroke-width="0.8"/>
<line x1="616.70" y1="584.00" x2="616.70" y2="574.10" stroke="#444" stroke-width="1.1" />
<line x1="615.00" y1="574.10" x2="618.40" y2="574.10" stroke="#444" stroke-width="1.1" />
<line x1="634.70" y1="634.60" x2="634.70" y2="621.40" stroke="#444" stroke-width="1.1" />
<line x1="633.00" y1="621.40" x2="636.40" y2="621.40" stroke="#444" stroke-width="1.1" />
<line x1="633.00" y1="634.60" x2="636.40" y2="634.60" stroke="#444" stroke-width="1.1" />
<path d="M618.8,562.9 V553.9 H643.6 V562.9" fill="none" stroke="#231f20" stroke-width="1.4"/>
<path d="M630.70,539.20 L631.91,541.83 L634.79,542.17 L632.66,544.14 L633.23,546.98 L630.70,545.56 L628.17,546.98 L628.74,544.14 L626.61,542.17 L629.49,541.83Z" fill="#231f20"/>
<text transform="translate(555.8,612.9) rotate(-90)" font-size="13.6" text-anchor="middle" fill="#2a2a2a">RQ (VCO<tspan font-size="10" dy="4">2</tspan><tspan dy="-4">/VO</tspan><tspan font-size="10" dy="4">2</tspan><tspan dy="-4">)</tspan></text>
</svg>
</body></html>
